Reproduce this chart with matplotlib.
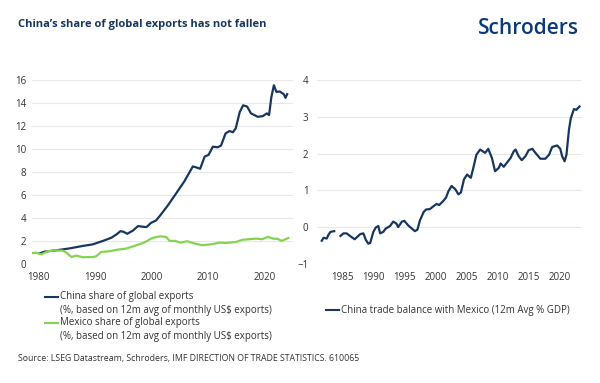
import matplotlib.pyplot as plt
from matplotlib.lines import Line2D

plt.rcParams['font.family'] = ['Open Sans', 'DejaVu Sans']

navy = '#17375e'
green = '#84d44e'
grid_c = '#e8e8e8'
text_c = '#333333'

# left panel: share of global exports (%)
china_years = [1980.2, 1981.1, 1983.1, 1985.5, 1987.8, 1989.6, 1991.4, 1992.9, 1993.8,
               1994.5, 1995.0, 1995.7, 1996.7, 1997.6, 1998.2, 1999.1, 1999.9, 2000.8,
               2001.5, 2002.9, 2004.4, 2005.8, 2007.3, 2007.9, 2008.6, 2009.4, 2010.1,
               2010.85, 2011.7, 2012.3, 2013.1, 2013.8, 2014.4, 2014.9, 2015.6, 2016.2,
               2016.9, 2017.6, 2018.8, 2019.7, 2020.4, 2020.8, 2021.2, 2021.65, 2022.1,
               2022.7, 2023.4, 2023.7, 2024.0]
china_share = [0.92, 1.07, 1.18, 1.35, 1.56, 1.7, 2.0, 2.28, 2.57,
               2.85, 2.8, 2.62, 2.9, 3.29, 3.25, 3.2, 3.57, 3.78,
               4.2, 5.1, 6.17, 7.18, 8.48, 8.4, 8.28, 9.34, 9.49,
               10.2, 10.15, 10.3, 11.36, 11.56, 11.46, 11.8, 13.2, 13.8,
               13.7, 13.1, 12.8, 12.86, 13.1, 12.95, 14.5, 15.55, 14.97,
               15.0, 14.77, 14.45, 14.77]

mexico_years = [1979.0, 1979.6, 1980.5, 1981.6, 1983.1, 1984.3, 1985.0, 1985.8, 1986.7,
                1987.8, 1989.6, 1990.2, 1991.1, 1992.6, 1994.0, 1995.5, 1997.3, 1998.8,
                1999.9, 2000.8, 2001.7, 2002.6, 2003.2, 2004.2, 2005.1, 2006.3, 2007.8,
                2009.0, 2010.8, 2012.0, 2013.2, 2014.9, 2016.1, 2018.5, 2019.6, 2020.6,
                2021.5, 2022.3, 2023.0, 2023.5, 2024.2]
mexico_share = [0.95, 0.97, 0.83, 1.1, 1.18, 1.15, 0.95, 0.6, 0.72,
                0.58, 0.6, 0.66, 1.04, 1.1, 1.24, 1.33, 1.62, 1.88,
                2.2, 2.34, 2.4, 2.34, 2.0, 2.0, 1.85, 1.97, 1.75,
                1.62, 1.72, 1.85, 1.82, 1.9, 2.1, 2.2, 2.15, 2.35,
                2.2, 2.18, 2.0, 2.1, 2.25]

# right panel: China trade balance with Mexico (12m avg % GDP), gap in 1984
bal_years_a = [1981.7, 1982.0, 1982.5, 1982.8, 1983.1, 1983.7]
bal_a = [-0.37, -0.29, -0.31, -0.2, -0.13, -0.11]
bal_years_b = [1984.7, 1985.2, 1985.7, 1986.4, 1987.0, 1987.9, 1988.4, 1988.8, 1989.2,
               1989.5, 1990.0, 1990.4, 1990.8, 1991.1, 1991.6, 1992.0, 1992.7, 1993.2,
               1993.7, 1994.0, 1994.6, 1995.0, 1995.6, 1996.2, 1996.7, 1997.1, 1997.5,
               1998.1, 1998.5, 1999.1, 1999.7, 2000.2, 2000.6, 2001.2, 2001.7, 2002.1,
               2002.6, 2003.2, 2003.7, 2004.1, 2004.6, 2005.1, 2005.7, 2006.1, 2006.6,
               2007.2, 2008.0, 2008.5, 2009.1, 2009.6, 2010.2, 2010.5, 2011.0, 2011.5,
               2012.1, 2012.6, 2012.9, 2013.4, 2013.9, 2014.5, 2015.0, 2015.6, 2016.1,
               2016.9, 2017.7, 2018.3, 2018.8, 2019.6, 2020.1, 2020.4, 2020.8, 2021.1,
               2021.5, 2021.8, 2022.3, 2022.7, 2022.9, 2023.2]
bal_b = [-0.24, -0.17, -0.17, -0.26, -0.33, -0.19, -0.17, -0.35, -0.45,
         -0.43, -0.13, -0.01, 0.03, -0.17, -0.13, -0.04, 0.03, 0.15,
         0.1, 0.0, 0.15, 0.17, 0.05, -0.04, -0.11, -0.07, 0.18,
         0.41, 0.48, 0.49, 0.57, 0.63, 0.6, 0.7, 0.8, 0.98,
         1.12, 1.03, 0.89, 0.94, 1.3, 1.43, 1.34, 1.61, 1.97,
         2.11, 2.02, 2.13, 1.88, 1.52, 1.61, 1.73, 1.64, 1.75,
         1.88, 2.06, 2.11, 1.93, 1.82, 1.93, 2.09, 2.13, 2.02,
         1.86, 1.86, 1.97, 2.18, 2.22, 2.13, 1.93, 1.79, 1.97,
         2.65, 2.96, 3.21, 3.19, 3.23, 3.28]

fig = plt.figure(figsize=(6, 3.83), dpi=100)

ax1 = fig.add_axes([0.053, 0.311, 0.435, 0.480])
ax1.plot(china_years, china_share, color=navy, lw=1.6)
ax1.plot(mexico_years, mexico_share, color=green, lw=1.6)
ax1.set_xlim(1978.8, 2025)
ax1.set_ylim(0, 16)
ax1.set_yticks(range(0, 17, 2))
ax1.set_xticks([1980, 1990, 2000, 2010, 2020])

ax2 = fig.add_axes([0.528, 0.311, 0.442, 0.480])
ax2.plot(bal_years_a, bal_a, color=navy, lw=1.6)
ax2.plot(bal_years_b, bal_b, color=navy, lw=1.6)
ax2.set_xlim(1980.9, 2023.6)
ax2.set_ylim(-1, 4)
ax2.set_yticks(range(-1, 5))
ax2.set_xticks(range(1985, 2021, 5))

for ax in (ax1, ax2):
    for s in ax.spines.values():
        s.set_visible(False)
    ax.grid(axis='y', color=grid_c, lw=0.8)
    ax.set_axisbelow(True)
    ax.tick_params(length=0, labelsize=7, colors=text_c)
    ax.tick_params(axis='x', pad=6)
ax1.tick_params(axis='y', pad=4)
ax2.tick_params(axis='y', pad=6)

fig.text(0.03, 0.937, "China\u2019s share of global exports has not fallen",
         fontsize=8, fontweight='bold', color=navy, va='center')
fig.text(0.965, 0.925, 'Schroders', fontsize=15, fontweight='semibold',
         color='#0b3a7a', ha='right', va='center')

# legends
def legend_item(x, y, color, lines):
    fig.add_artist(Line2D([x / 600, (x + 13) / 600], [1 - y / 383, 1 - y / 383],
                          color=color, lw=1.5))
    for i, t in enumerate(lines):
        fig.text((x + 15) / 600, 1 - (y + i * 13) / 383, t, fontsize=7,
                 color=text_c, va='center')

legend_item(45, 297, navy, ['China share of global exports',
                            '(%, based on 12m avg of monthly US$ exports)'])
legend_item(45, 323, green, ['Mexico share of global exports',
                             '(%, based on 12m avg of monthly US$ exports)'])
legend_item(326, 310, navy, ['China trade balance with Mexico (12m Avg % GDP)'])

fig.text(0.03, 1 - 358 / 383,
         'Source: LSEG Datastream, Schroders, IMF DIRECTION OF TRADE STATISTICS. 610065',
         fontsize=6.3, color=text_c, va='center')

fig.savefig('out.png', dpi=100)
